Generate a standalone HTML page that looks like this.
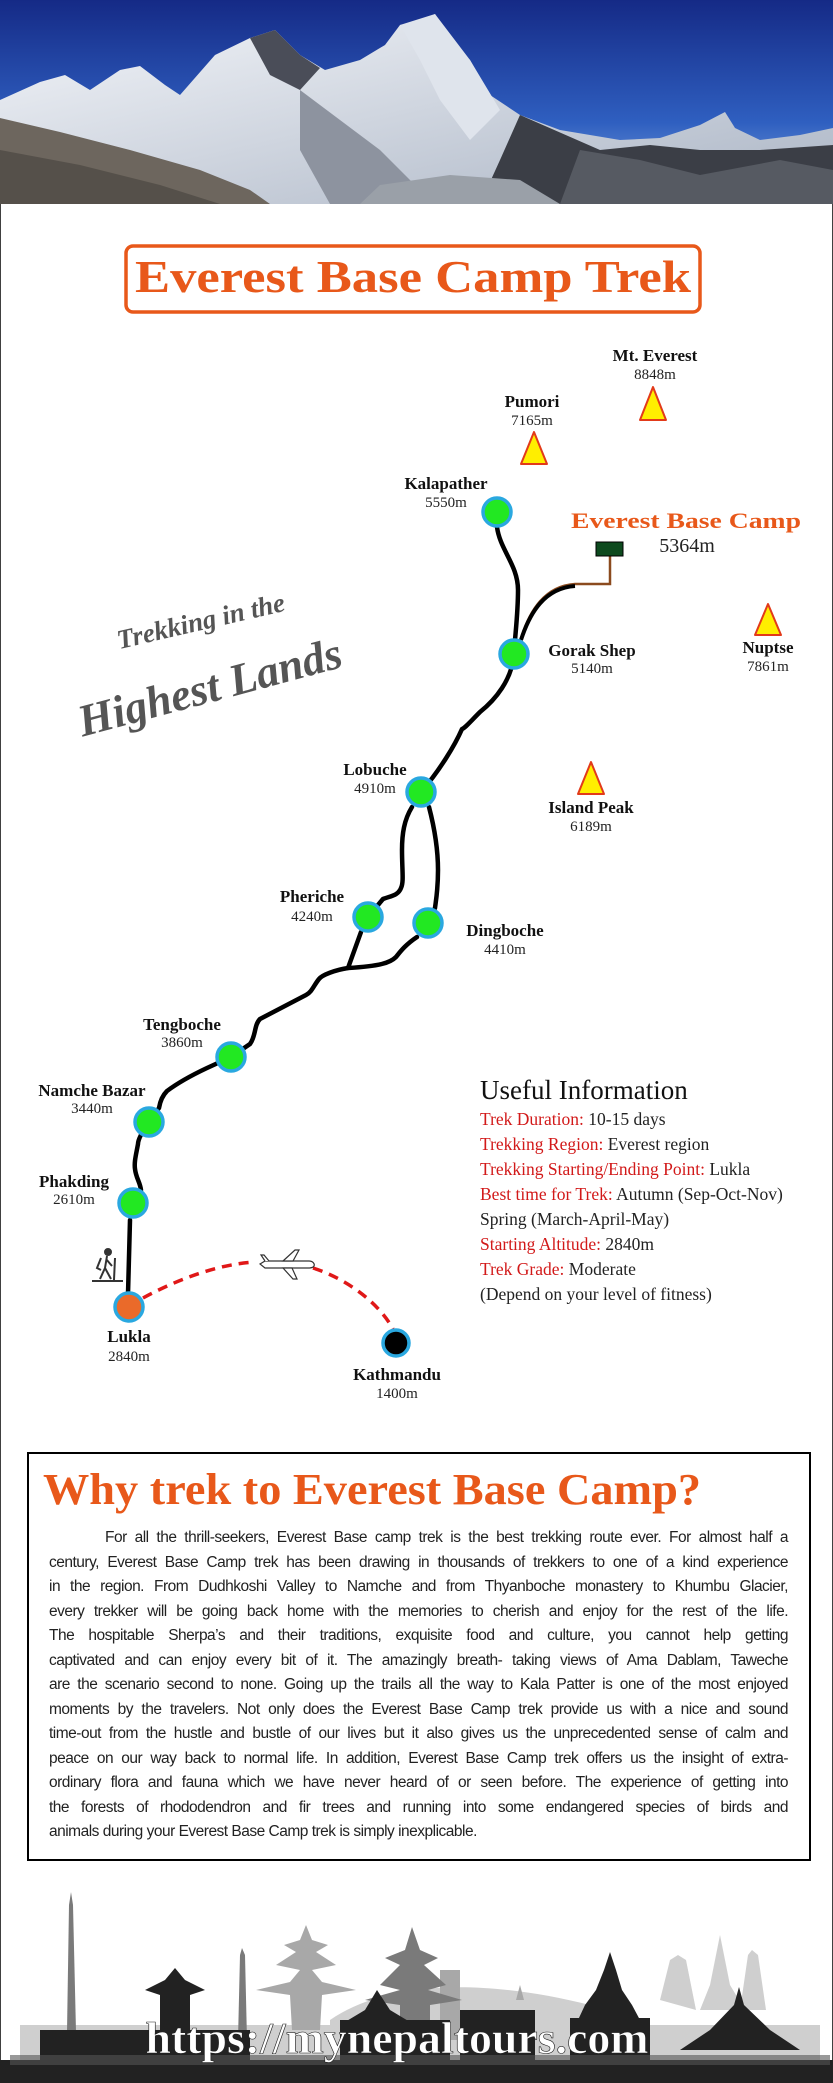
<!DOCTYPE html>
<html><head><meta charset="utf-8"><style>
html,body{margin:0;padding:0;background:#fff}
body{width:833px;height:2083px;overflow:hidden;position:relative}
svg{position:absolute;left:0;top:0}
.b{font-family:"Liberation Serif",serif;font-weight:bold;fill:#111}
.a{font-family:"Liberation Serif",serif;fill:#222}
.body{position:absolute;left:49px;top:1526px;width:739px;font-family:"Liberation Sans",sans-serif;font-size:15.5px;letter-spacing:-0.5px;color:#222;line-height:24.5px}
.body div{text-align:justify;text-align-last:justify;white-space:nowrap}
.body div.l{text-align-last:left}
.ui{position:absolute;left:480px;top:1075px;font-family:"Liberation Serif",serif;color:#222;font-size:17.5px;line-height:25px;white-space:nowrap}
.ui h3{margin:0 0 2px 0;font-size:27px;font-weight:normal;line-height:30px;color:#111}
.ui span{color:#d21919}
</style></head><body>
<svg width="833" height="2083" viewBox="0 0 833 2083" xmlns="http://www.w3.org/2000/svg">
<defs>
<linearGradient id="sky" x1="0" y1="0" x2="0" y2="1"><stop offset="0" stop-color="#152a86"/><stop offset="0.6" stop-color="#2f5fc0"/><stop offset="1" stop-color="#86acdf"/></linearGradient>
<linearGradient id="snow" x1="0" y1="0" x2="1" y2="1"><stop offset="0" stop-color="#f4f6fa"/><stop offset="1" stop-color="#aab4c4"/></linearGradient>
</defs>
<rect x="0" y="0" width="833" height="2083" fill="#fff" stroke="#000" stroke-width="1.5"/>
<rect x="0" y="0" width="833" height="204" fill="url(#sky)"/>
<polygon points="0,100 40,82 65,75 90,90 120,70 140,66 165,85 180,95 215,55 250,38 275,30 300,55 325,70 360,60 385,45 400,25 425,20 435,14 450,40 470,60 490,95 520,115 560,130 590,135 620,140 660,138 700,125 725,112 735,128 760,140 800,135 833,128 833,204 0,204" fill="url(#snow)"/>
<polygon points="250,38 275,30 300,55 320,68 300,90 270,75" fill="#4a4d58"/>
<polygon points="400,25 435,14 470,60 500,110 470,140 440,100 420,60" fill="#dfe4ec"/>
<polygon points="300,90 340,120 380,150 420,190 460,204 330,204 300,150" fill="#8d939f"/>
<polygon points="520,115 600,150 650,145 700,150 760,150 833,145 833,204 480,204 500,160" fill="#3b3e46"/>
<polygon points="580,150 640,160 700,175 780,160 833,170 833,204 560,204" fill="#565a62"/>
<polygon points="0,118 60,132 130,150 200,170 250,190 270,204 0,204" fill="#6d665e"/>
<polygon points="0,150 80,165 160,185 220,204 0,204" fill="#55504a"/>
<polygon points="380,185 450,175 520,180 560,204 360,204" fill="#9aa0a8"/>
<rect x="126" y="246" width="574" height="66" rx="7" fill="#fff" stroke="#e8581a" stroke-width="3.5"/>
<text x="413" y="292" text-anchor="middle" font-family="Liberation Serif,serif" font-weight="bold" font-size="46" fill="#e8581a" textLength="556" lengthAdjust="spacingAndGlyphs">Everest Base Camp Trek</text>
<g transform="rotate(-13 201 622)"><text x="201" y="630" text-anchor="middle" font-family="Liberation Serif,serif" font-style="italic" font-weight="bold" font-size="27" fill="#555">Trekking in the</text></g>
<g transform="rotate(-15 210 688)"><text x="210" y="702" text-anchor="middle" font-family="Liberation Serif,serif" font-style="italic" font-weight="bold" font-size="45" fill="#555">Highest Lands</text></g>
<g fill="#ffee00" stroke="#e23a1a" stroke-width="2" stroke-linejoin="round">
<polygon points="653,387 666,420 640,420"/>
<polygon points="534,432 547,464 521,464"/>
<polygon points="768,604 781,635 755,635"/>
<polygon points="591,762 604,794 578,794"/>
</g>
<g fill="none" stroke="#000" stroke-width="4.5" stroke-linecap="round" stroke-linejoin="round">
<path d="M497,527 C500,550 518,565 518,590 C518,615 515,635 514,654"/>
<path d="M514,654 C512,680 495,700 480,712 C470,722 465,728 462,729 C455,745 440,770 421,792"/>
<path d="M412,807 C404,820 402,834 402,850 C402,870 404,882 401,888 C398,896 390,896 383,899 L368,917"/>
<path d="M429,807 C435,830 438,850 438,870 C438,890 436,900 435,908 L428,923"/>
<path d="M361,932 L348,968"/>
<path d="M417,937 C405,945 400,952 396,957 C390,963 380,966 348,968 C335,970 322,975 319,979 C314,985 312,992 306,995 L260,1019 C254,1025 256,1036 250,1044 L231,1057"/>
<path d="M231,1057 L207,1068 C190,1076 175,1085 167,1091 C162,1096 160,1102 159,1108 L149,1122"/>
<path d="M149,1122 C142,1132 138,1140 138,1144 C136,1155 134,1162 135,1169 C136,1178 140,1182 141,1190 L133,1203"/>
<path d="M130,1220 L128,1294"/>
</g>
<path d="M521,638 C530,610 545,586 575,584 L610,584 L610,556" fill="none" stroke="#8b4a1e" stroke-width="2.5"/>
<path d="M521,640 C530,612 545,588 575,586" fill="none" stroke="#000" stroke-width="4"/>
<rect x="596" y="542" width="27" height="14" fill="#0d4a1e" stroke="#000" stroke-width="1"/>
<path d="M143,1298 C180,1278 220,1264 255,1262 M313,1268 C350,1280 380,1305 393,1329" fill="none" stroke="#e01818" stroke-width="3.5" stroke-dasharray="10,7"/>
<g transform="translate(287,1265)" fill="#fff" stroke="#333" stroke-width="1.2">
<path d="M-27,-1 L-22,-4 L22,-4 C26,-4 28,-1 27,1 C26,3 23,3 20,3 L-22,3 Z"/>
<path d="M-4,-4 L8,-15 L12,-15 L6,-4 Z"/><path d="M-4,3 L6,14 L10,14 L5,3 Z"/><path d="M-22,-4 L-26,-10 L-23,-10 L-18,-4"/>
</g>
<g stroke="#333" stroke-width="2" fill="none">
<circle cx="108" cy="1252" r="3" fill="#333"/>
<path d="M107,1256 L105,1268 L100,1279 M105,1268 L111,1279 M106,1259 L112,1266 M101,1258 L97,1268 L101,1270 M115,1258 L114,1280 M92,1281 L123,1281"/>
</g>
<g stroke="#2aa8e0" stroke-width="3.5" fill="#22e822">
<circle cx="497" cy="512" r="14"/>
<circle cx="514" cy="654" r="14"/>
<circle cx="421" cy="792" r="14"/>
<circle cx="368" cy="917" r="14"/>
<circle cx="428" cy="923" r="14"/>
<circle cx="231" cy="1057" r="14"/>
<circle cx="149" cy="1122" r="14"/>
<circle cx="133" cy="1203" r="14"/>
<circle cx="129" cy="1307" r="14" fill="#ea6a2a"/>
<circle cx="396" cy="1343" r="13" fill="#000"/>
</g>
<g class="b" font-size="17" text-anchor="middle">
<text x="655" y="361">Mt. Everest</text>
<text x="532" y="407">Pumori</text>
<text x="446" y="489">Kalapather</text>
<text x="592" y="656">Gorak Shep</text>
<text x="768" y="653">Nuptse</text>
<text x="375" y="775">Lobuche</text>
<text x="591" y="813">Island Peak</text>
<text x="312" y="902">Pheriche</text>
<text x="505" y="936">Dingboche</text>
<text x="182" y="1030">Tengboche</text>
<text x="92" y="1096">Namche Bazar</text>
<text x="74" y="1187">Phakding</text>
<text x="129" y="1342">Lukla</text>
<text x="397" y="1380">Kathmandu</text>
</g>
<g class="a" font-size="15" text-anchor="middle">
<text x="655" y="379">8848m</text>
<text x="532" y="425">7165m</text>
<text x="446" y="507">5550m</text>
<text x="592" y="673">5140m</text>
<text x="768" y="671">7861m</text>
<text x="375" y="793">4910m</text>
<text x="591" y="831">6189m</text>
<text x="312" y="921">4240m</text>
<text x="505" y="954">4410m</text>
<text x="182" y="1047">3860m</text>
<text x="92" y="1113">3440m</text>
<text x="74" y="1204">2610m</text>
<text x="129" y="1361">2840m</text>
<text x="397" y="1398">1400m</text>
</g>
<text x="571" y="528" font-family="Liberation Serif,serif" font-weight="bold" font-size="22" fill="#e8581a" textLength="230" lengthAdjust="spacingAndGlyphs">Everest Base Camp</text>
<text x="687" y="552" text-anchor="middle" font-family="Liberation Serif,serif" font-size="20" fill="#222">5364m</text>
<rect x="28" y="1453" width="782" height="407" fill="none" stroke="#000" stroke-width="2"/>
<text x="43" y="1504" font-family="Liberation Serif,serif" font-weight="bold" font-size="44" fill="#e8581a" textLength="658" lengthAdjust="spacingAndGlyphs">Why trek to Everest Base Camp?</text>
<g fill="#cfcfcf">
<path d="M330,2020 C380,1985 470,1975 590,2005 L590,2060 L330,2060 Z"/>
<rect x="20" y="2025" width="800" height="40"/>
<polygon points="660,2000 670,1960 678,1955 686,1960 696,2010"/>
<polygon points="740,2010 748,1955 752,1950 758,1955 766,2010"/>
<polygon points="700,2010 710,1985 720,1935 730,1985 745,2010"/>
</g>
<g fill="#a8a8a8">
<polygon points="306,1925 300,1940 284,1945 296,1952 276,1965 300,1970 290,1982 256,1990 290,1995 292,2030 320,2030 322,1995 356,1990 322,1982 312,1970 336,1965 316,1952 328,1945 312,1940"/>
<rect x="440" y="1970" width="20" height="70"/>
<polygon points="516,2000 520,1985 524,2000"/>
</g>
<g fill="#7a7a7a">
<polygon points="412,1927 405,1950 385,1958 400,1965 380,1985 400,1990 365,2000 400,2005 400,2040 430,2040 430,2005 462,2000 428,1990 446,1985 424,1965 438,1958 420,1950"/>
<polygon points="67,2032 69,1905 71,1892 73,1905 76,2032"/>
<polygon points="238,2040 240,1955 242,1948 245,1955 247,2040"/>
</g>
<g fill="#222">
<polygon points="175,1968 165,1980 145,1990 160,1995 160,2030 190,2030 190,1995 205,1990 185,1980"/>
<polygon points="377,1990 365,2010 345,2022 410,2022 390,2010"/>
<polygon points="610,1952 604,1970 596,1990 585,2005 578,2020 640,2020 632,2005 622,1990 616,1970"/>
<polygon points="739,1987 734,2005 710,2030 680,2050 800,2050 770,2030 744,2005"/>
<rect x="40" y="2030" width="210" height="40"/>
<rect x="460" y="2010" width="75" height="55"/>
<rect x="340" y="2020" width="110" height="45"/>
<rect x="570" y="2018" width="80" height="50"/>
<rect x="0" y="2060" width="833" height="23"/>
</g>
<g fill="#555"><rect x="10" y="2055" width="820" height="10" opacity="0.6"/></g>
<text x="397" y="2053" text-anchor="middle" font-family="Liberation Serif,serif" font-weight="bold" font-size="44" fill="#fff" stroke="#222" stroke-width="0.6" textLength="503" lengthAdjust="spacingAndGlyphs">https://mynepaltours.com</text>
</svg>
<div class="ui">
<h3>Useful Information</h3>
<div><span>Trek Duration:</span> 10-15 days</div>
<div><span>Trekking Region:</span> Everest region</div>
<div><span>Trekking Starting/Ending Point:</span> Lukla</div>
<div><span>Best time for Trek:</span> Autumn (Sep-Oct-Nov)</div>
<div>Spring (March-April-May)</div>
<div><span>Starting Altitude:</span> 2840m</div>
<div><span>Trek Grade:</span> Moderate</div>
<div>(Depend on your level of fitness)</div>
</div>
<div class="body">
<div style="padding-left:56px">For all the thrill-seekers, Everest Base camp trek is the best trekking route ever. For almost half a</div>
<div>century, Everest Base Camp trek has been drawing in thousands of trekkers to one of a kind experience</div>
<div>in the region. From Dudhkoshi Valley to Namche and from Thyanboche monastery to Khumbu Glacier,</div>
<div>every trekker will be going back home with the memories to cherish and enjoy for the rest of the life.</div>
<div>The hospitable Sherpa’s and their traditions, exquisite food and culture, you cannot help getting</div>
<div>captivated and can enjoy every bit of it. The amazingly breath- taking views of Ama Dablam, Taweche</div>
<div>are the scenario second to none. Going up the trails all the way to Kala Patter is one of the most enjoyed</div>
<div>moments by the travelers. Not only does the Everest Base Camp trek provide us with a nice and sound</div>
<div>time-out from the hustle and bustle of our lives but it also gives us the unprecedented sense of calm and</div>
<div>peace on our way back to normal life. In addition, Everest Base Camp trek offers us the insight of extra-</div>
<div>ordinary flora and fauna which we have never heard of or seen before. The experience of getting into</div>
<div>the forests of rhododendron and fir trees and running into some endangered species of birds and</div>
<div class="l">animals during your Everest Base Camp trek is simply inexplicable.</div>
</div>
</body></html>
